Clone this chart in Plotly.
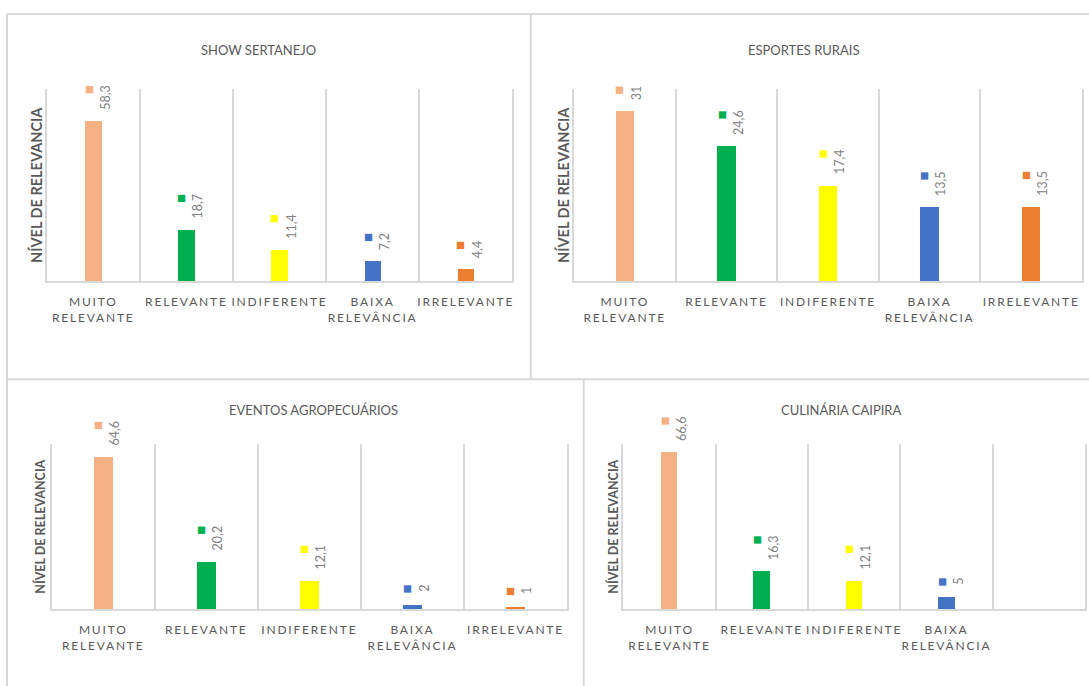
import plotly.graph_objects as go

# Categories shared by all four panels
categories = ["MUITO RELEVANTE", "RELEVANTE", "INDIFERENTE", "BAIXA RELEVÂNCIA", "IRRELEVANTE"]
tick_lines = [["MUITO", "RELEVANTE"], ["RELEVANTE"], ["INDIFERENTE"], ["BAIXA", "RELEVÂNCIA"], ["IRRELEVANTE"]]
bar_colors = ["#F4B183", "#00B050", "#FFFF00", "#4472C4", "#ED7D31"]

# Percentages per event type
show_sertanejo = [58.3, 18.7, 11.4, 7.2, 4.4]
esportes_rurais = [31, 24.6, 17.4, 13.5, 13.5]
eventos_agropecuarios = [64.6, 20.2, 12.1, 2, 1]
culinaria_caipira = [66.6, 16.3, 12.1, 5, None]

panel_titles = ["SHOW SERTANEJO", "ESPORTES RURAIS", "EVENTOS AGROPECUÁRIOS", "CULINÁRIA CAIPIRA"]
panel_values = [show_sertanejo, esportes_rurais, eventos_agropecuarios, culinaria_caipira]
y_title = "NÍVEL DE RELEVANCIA"

W, H = 1089, 686
FONT = "Lato, 'Open Sans', sans-serif"
GRID = "#d9d9d9"
TEXT = "#595959"
VALUE_TEXT = "#808080"


def px_x(v):
    return v / W


def px_y(v):
    return 1 - v / H


# Pixel layout of each panel: plot area (left, right, top, bottom), y max,
# title centre, y-title x, font sizes
panels = [
    dict(x0=46.7, x1=512.3, y0=89, y1=281, ymax=70, tx=258, ty=50, ytx=36, ytsize=14.5),
    dict(x0=574, x1=1082, y0=89, y1=281, ymax=35, tx=803, ty=50, ytx=563, ytsize=14.5),
    dict(x0=51.7, x1=567, y0=444, y1=609.3, ymax=70, tx=313, ty=410, ytx=40, ytsize=12.5),
    dict(x0=623.3, x1=1085, y0=444, y1=609.3, ymax=70, tx=841, ty=410, ytx=613, ytsize=12.5),
]


def spaced(word):
    return f'<span style="letter-spacing:1.8px">{word}</span>'


def fmt(v):
    return f"{v:g}".replace(".", ",")


fig = go.Figure()
annotations = []

for i, (title, values, p) in enumerate(zip(panel_titles, panel_values, panels)):
    n = "" if i == 0 else str(i + 1)
    xa, ya = f"x{n}", f"y{n}"

    fig.add_trace(go.Bar(
        x=categories, y=values, width=0.18,
        marker=dict(color=bar_colors, line=dict(width=0)),
        xaxis=xa, yaxis=ya, showlegend=False, hoverinfo="x+y",
    ))

    ticktext = []
    for cat_lines, v in zip(tick_lines, values):
        if v is None:
            ticktext.append("")
        else:
            ticktext.append("<br>".join(spaced(w) for w in cat_lines))

    fig.update_layout({
        f"xaxis{n}": dict(
            domain=[px_x(p["x0"]), px_x(p["x1"])], anchor=ya,
            type="category", categoryorder="array", categoryarray=categories,
            tickmode="array", tickvals=categories, ticktext=ticktext,
            tickson="boundaries", ticks="", showgrid=True, gridcolor=GRID, gridwidth=1.5,
            showline=True, linecolor=GRID, linewidth=1.5,
            tickfont=dict(family=FONT, size=12, color=TEXT),
            tickangle=0, automargin=False,
            ticklabelstandoff=9, range=[-0.5, 4.5], fixedrange=True,
        ),
        f"yaxis{n}": dict(
            domain=[px_y(p["y1"]), px_y(p["y0"])], anchor=xa,
            range=[0, p["ymax"]], showgrid=False, zeroline=False,
            showticklabels=False, ticks="", automargin=False,
            showline=True, linecolor=GRID, linewidth=1.5, mirror=True,
            fixedrange=True,
        ),
    })

    # value labels: legend key square above the value, both rotated
    for cat, v, c in zip(categories, values, bar_colors):
        if v is None:
            continue
        annotations.append(dict(
            x=cat, y=v, xref=xa, yref=ya,
            text=f'<span style="color:{c};font-size:15px">■</span><br>{fmt(v)}',
            textangle=-90, align="right", showarrow=False,
            xanchor="center", yanchor="bottom", xshift=2, yshift=9,
            font=dict(family=FONT, size=12.5, color=VALUE_TEXT),
        ))

    # panel title
    annotations.append(dict(
        x=px_x(p["tx"]), y=px_y(p["ty"]), xref="paper", yref="paper",
        text=title, showarrow=False, xanchor="center", yanchor="middle",
        font=dict(family=FONT, size=13, color=TEXT),
    ))

    # y-axis title
    annotations.append(dict(
        x=px_x(p["ytx"]), y=px_y((p["y0"] + p["y1"]) / 2), xref="paper", yref="paper",
        text=f"<b>{y_title}</b>", textangle=-90, showarrow=False,
        xanchor="center", yanchor="middle",
        font=dict(family=FONT, size=p["ytsize"], color=TEXT),
    ))

# Panel frames
frame_lines = [
    (7, 14, W + 5, 14),
    (7, 379.3, W + 5, 379.3),
    (7, 14, 7, H + 5),
    (530.7, 14, 530.7, 379.3),
    (583.7, 379.3, 583.7, H + 5),
]
shapes = [
    dict(type="line", xref="paper", yref="paper",
         x0=px_x(a), y0=px_y(b), x1=px_x(c), y1=px_y(d),
         line=dict(color=GRID, width=2), layer="below")
    for a, b, c, d in frame_lines
]

fig.update_layout(
    width=W, height=H,
    margin=dict(l=0, r=0, t=0, b=0, autoexpand=False),
    paper_bgcolor="white", plot_bgcolor="white",
    annotations=annotations, shapes=shapes,
    bargap=0, showlegend=False,
    font=dict(family=FONT, color=TEXT),
)

fig.write_html("out.html")
